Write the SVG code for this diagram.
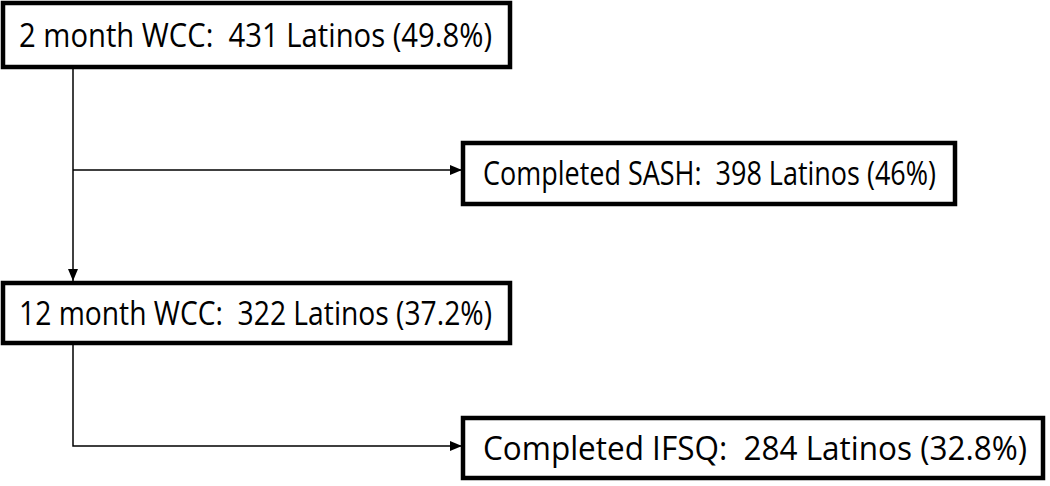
<svg xmlns="http://www.w3.org/2000/svg" width="1050" height="486" viewBox="0 0 1050 486">
  <defs>
    <marker id="arrow" viewBox="0 0 12 10" refX="12" refY="5" markerWidth="12" markerHeight="10" markerUnits="userSpaceOnUse" orient="auto">
      <path d="M0,0 L12,5 L0,10 z" fill="#000"/>
    </marker>
    <style>
      .box { fill: #fff; stroke: #000; stroke-width: 4.5; }
      .lbl { font-family: "Open Sans", "Liberation Sans", Arial, sans-serif; font-size: 32px; fill: #000; white-space: pre; }
      .conn { fill: none; stroke: #000; stroke-width: 1.5; }
    </style>
  </defs>
  <rect width="1050" height="486" fill="#fff"/>
  <g id="connectors">
    <line class="conn" x1="73" y1="67" x2="73" y2="281" marker-end="url(#arrow)"/>
    <line class="conn" x1="73" y1="170" x2="462" y2="170" marker-end="url(#arrow)"/>
    <polyline class="conn" points="73,343 73,446 462,446" marker-end="url(#arrow)"/>
  </g>
  <g id="node-2month">
    <rect class="box" x="3" y="3" width="507" height="64"/>
    <text class="lbl" x="19" y="47" textLength="473" lengthAdjust="spacingAndGlyphs" xml:space="preserve">2 month WCC:  431 Latinos (49.8%)</text>
  </g>
  <g id="node-sash">
    <rect class="box" x="463" y="143" width="492" height="61"/>
    <text class="lbl" x="483" y="185" textLength="453" lengthAdjust="spacingAndGlyphs" xml:space="preserve">Completed SASH:  398 Latinos (46%)</text>
  </g>
  <g id="node-12month">
    <rect class="box" x="3" y="283" width="507" height="60"/>
    <text class="lbl" x="19" y="325" textLength="473" lengthAdjust="spacingAndGlyphs" xml:space="preserve">12 month WCC:  322 Latinos (37.2%)</text>
  </g>
  <g id="node-ifsq">
    <rect class="box" x="463" y="418" width="580" height="60"/>
    <text class="lbl" x="483" y="460" textLength="544" lengthAdjust="spacingAndGlyphs" xml:space="preserve">Completed IFSQ:  284 Latinos (32.8%)</text>
  </g>
</svg>
